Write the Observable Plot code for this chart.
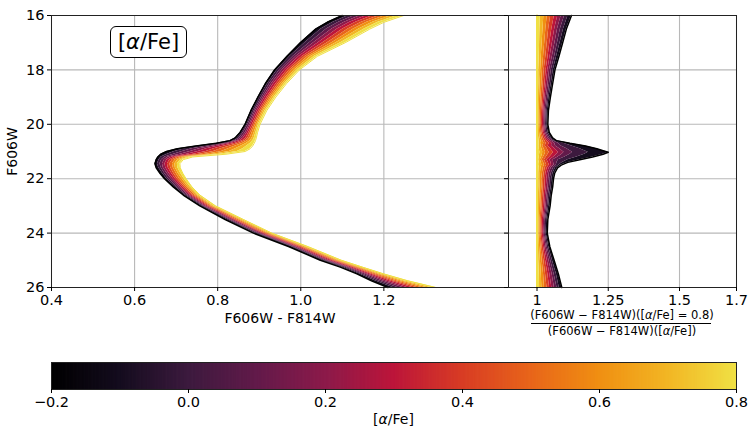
<!DOCTYPE html>
<html><head><meta charset="utf-8">
<script src="https://cdn.jsdelivr.net/npm/d3@7"></script>
<script src="https://cdn.jsdelivr.net/npm/@observablehq/plot@0.6"></script>
<style>
body{margin:0;background:#fff;}
#wrap{position:relative;width:748px;height:432px;font-family:"DejaVu Sans",sans-serif;color:#000;overflow:hidden;background:#fff;}
#wrap svg{position:absolute;}
.lbl{position:absolute;white-space:nowrap;line-height:1;}
</style></head><body><div id="wrap"></div>
<script>
// ---- data ----
const alphas = [-0.2,-0.1,0.0,0.1,0.2,0.3,0.4,0.5,0.6,0.7,0.8];
// F606W magnitudes at which the colours are read (left panel)
const mags = [16,16.25,16.5,17,17.5,18,18.5,19,19.5,20,20.3,20.5,20.6,20.7,20.8,20.9,21,21.1,21.2,21.3,21.45,21.6,21.8,22,22.3,22.6,23,23.5,24,24.5,25,25.25,25.5,25.75,26];
// F606W - F814W colour of each [alpha/Fe] isochrone
const colour_m02 = [1.100,1.064,1.036,0.999,0.967,0.937,0.915,0.897,0.880,0.866,0.854,0.842,0.830,0.797,0.748,0.703,0.677,0.663,0.656,0.652,0.649,0.652,0.661,0.672,0.693,0.717,0.757,0.818,0.886,0.972,1.047,1.095,1.135,1.170,1.210];
const colour_m01 = [1.115,1.078,1.049,1.010,0.974,0.943,0.920,0.901,0.884,0.870,0.858,0.847,0.836,0.806,0.762,0.721,0.696,0.679,0.664,0.659,0.655,0.658,0.667,0.677,0.698,0.721,0.761,0.822,0.890,0.977,1.052,1.100,1.142,1.179,1.222];
const colour_p00 = [1.130,1.091,1.062,1.021,0.982,0.949,0.925,0.906,0.888,0.873,0.862,0.852,0.842,0.815,0.775,0.738,0.715,0.694,0.673,0.665,0.661,0.664,0.672,0.682,0.702,0.725,0.765,0.827,0.895,0.981,1.057,1.106,1.148,1.187,1.233];
const colour_p01 = [1.144,1.105,1.075,1.031,0.989,0.955,0.930,0.910,0.891,0.877,0.867,0.857,0.848,0.824,0.789,0.756,0.734,0.710,0.681,0.672,0.667,0.669,0.678,0.688,0.707,0.729,0.768,0.831,0.899,0.986,1.062,1.111,1.155,1.196,1.245];
const colour_p02 = [1.159,1.118,1.088,1.042,0.996,0.961,0.935,0.914,0.895,0.880,0.871,0.862,0.854,0.833,0.802,0.773,0.753,0.726,0.690,0.678,0.673,0.675,0.683,0.693,0.711,0.733,0.772,0.836,0.904,0.990,1.067,1.116,1.161,1.205,1.256];
const colour_p03 = [1.174,1.132,1.101,1.053,1.004,0.967,0.941,0.919,0.899,0.884,0.875,0.868,0.861,0.843,0.816,0.791,0.772,0.742,0.698,0.685,0.679,0.681,0.689,0.698,0.716,0.737,0.776,0.840,0.908,0.995,1.073,1.122,1.168,1.214,1.268];
const colour_p04 = [1.189,1.146,1.114,1.064,1.011,0.973,0.946,0.923,0.903,0.888,0.879,0.873,0.867,0.852,0.830,0.808,0.790,0.757,0.706,0.691,0.685,0.687,0.694,0.703,0.720,0.741,0.780,0.844,0.912,1.000,1.078,1.127,1.174,1.222,1.279];
const colour_p05 = [1.204,1.159,1.127,1.075,1.018,0.979,0.951,0.927,0.907,0.891,0.883,0.878,0.873,0.861,0.843,0.826,0.809,0.773,0.715,0.698,0.691,0.693,0.700,0.708,0.725,0.745,0.784,0.849,0.917,1.004,1.083,1.132,1.181,1.231,1.291];
const colour_p06 = [1.218,1.173,1.140,1.085,1.025,0.985,0.956,0.931,0.910,0.895,0.888,0.883,0.879,0.870,0.857,0.843,0.828,0.789,0.723,0.704,0.697,0.698,0.705,0.714,0.729,0.749,0.787,0.853,0.921,1.009,1.088,1.137,1.187,1.240,1.302];
const colour_p07 = [1.233,1.186,1.153,1.096,1.033,0.991,0.961,0.936,0.914,0.898,0.892,0.888,0.885,0.879,0.870,0.861,0.847,0.804,0.732,0.711,0.703,0.704,0.711,0.719,0.734,0.753,0.791,0.858,0.926,1.013,1.093,1.143,1.194,1.248,1.314];
const colour_p08 = [1.248,1.200,1.166,1.107,1.040,0.997,0.966,0.940,0.918,0.902,0.896,0.893,0.891,0.888,0.884,0.878,0.866,0.820,0.740,0.717,0.709,0.710,0.716,0.724,0.738,0.757,0.795,0.862,0.930,1.018,1.098,1.148,1.200,1.257,1.325];

// magnitudes at which the colour ratios are read (right panel)
const ratioMags = [16,16.5,17,17.5,18,18.5,19,19.5,20,20.3,20.5,20.6,20.7,20.8,20.9,20.97,21.03,21.1,21.2,21.3,21.4,21.5,21.6,21.8,22.0,22.3,22.6,23.0,23.5,24.0,24.5,25.0,25.5,26.0];
const ratio_m02 = [1.121,1.103,1.090,1.077,1.063,1.055,1.047,1.040,1.038,1.043,1.055,1.068,1.115,1.170,1.210,1.232,1.250,1.232,1.195,1.150,1.108,1.085,1.072,1.062,1.058,1.055,1.050,1.046,1.038,1.036,1.045,1.060,1.075,1.087];
const ratio_m01 = [1.109,1.093,1.081,1.069,1.057,1.050,1.042,1.036,1.034,1.039,1.050,1.061,1.094,1.122,1.151,1.167,1.180,1.167,1.140,1.108,1.089,1.077,1.065,1.056,1.052,1.050,1.045,1.041,1.034,1.032,1.041,1.054,1.068,1.078];
const ratio_p00 = [1.097,1.082,1.072,1.062,1.050,1.044,1.038,1.032,1.030,1.034,1.044,1.054,1.075,1.085,1.105,1.116,1.125,1.116,1.098,1.075,1.070,1.068,1.058,1.050,1.046,1.044,1.040,1.037,1.030,1.029,1.036,1.048,1.060,1.070];
const ratio_p01 = [1.085,1.072,1.063,1.054,1.044,1.039,1.033,1.028,1.027,1.030,1.039,1.048,1.062,1.065,1.080,1.088,1.095,1.088,1.074,1.057,1.058,1.060,1.050,1.043,1.041,1.039,1.035,1.032,1.027,1.025,1.032,1.042,1.053,1.061];
const ratio_p02 = [1.073,1.062,1.054,1.046,1.038,1.033,1.028,1.024,1.023,1.026,1.033,1.041,1.052,1.051,1.063,1.070,1.075,1.070,1.059,1.045,1.049,1.051,1.043,1.037,1.035,1.033,1.030,1.028,1.023,1.022,1.027,1.036,1.045,1.052];
const ratio_p03 = [1.061,1.052,1.045,1.039,1.032,1.028,1.024,1.020,1.019,1.022,1.028,1.034,1.043,1.039,1.048,1.053,1.058,1.053,1.045,1.035,1.040,1.043,1.036,1.031,1.029,1.028,1.025,1.023,1.019,1.018,1.023,1.030,1.038,1.044];
const ratio_p04 = [1.048,1.041,1.036,1.031,1.025,1.022,1.019,1.016,1.015,1.017,1.022,1.027,1.032,1.029,1.036,1.039,1.043,1.039,1.033,1.026,1.030,1.034,1.029,1.025,1.023,1.022,1.020,1.018,1.015,1.014,1.018,1.024,1.030,1.035];
const ratio_p05 = [1.036,1.031,1.027,1.023,1.019,1.017,1.014,1.012,1.011,1.013,1.017,1.020,1.024,1.020,1.025,1.028,1.030,1.028,1.023,1.018,1.023,1.026,1.022,1.019,1.017,1.017,1.015,1.014,1.011,1.011,1.014,1.018,1.023,1.026];
const ratio_p06 = [1.024,1.021,1.018,1.015,1.013,1.011,1.009,1.008,1.008,1.009,1.011,1.014,1.016,1.014,1.017,1.019,1.020,1.019,1.016,1.012,1.015,1.017,1.014,1.012,1.012,1.011,1.010,1.009,1.008,1.007,1.009,1.012,1.015,1.017];
const ratio_p07 = [1.012,1.010,1.009,1.008,1.006,1.006,1.005,1.004,1.004,1.004,1.006,1.007,1.008,1.007,1.008,1.009,1.010,1.009,1.008,1.006,1.008,1.009,1.007,1.006,1.006,1.006,1.005,1.005,1.004,1.004,1.005,1.006,1.008,1.009];
const ratio_p08 = [1,1,1,1,1,1,1,1,1,1,1,1,1,1,1,1,1,1,1,1,1,1,1,1,1,1,1,1,1,1,1,1,1,1];

// ticks
const xTicksLeft = [0.4,0.6,0.8,1.0,1.2];
const xTicksRight = [1,1.25,1.5,1.7];
const yTicks = [16,18,20,22,24,26];
const cbarTicks = [-0.2,0.0,0.2,0.4,0.6,0.8];

// colour map stops (style), matched to the reference colour bar
const cmapStops = ["#000000","#140c1e","#3c1a3e","#621a4a","#8c1a4a","#bc153a","#d83c24","#e8651a","#f08f12","#f2b624","#f0e044"];

// ---- build tables ----
const colourSeries = [colour_m02,colour_m01,colour_p00,colour_p01,colour_p02,colour_p03,colour_p04,colour_p05,colour_p06,colour_p07,colour_p08];
const ratioSeries = [ratio_m02,ratio_m01,ratio_p00,ratio_p01,ratio_p02,ratio_p03,ratio_p04,ratio_p05,ratio_p06,ratio_p07,ratio_p08];
function bands(ys, series){
  const rows=[];
  for(let k=0;k<series.length-1;k++) for(let i=0;i<ys.length;i++)
    rows.push({m:ys[i], lo:series[k][i], hi:series[k+1][i], a:alphas[k+1], band:k});
  return rows;
}
function edge(ys, s, a){ return ys.map((m,i)=>({m, c:s[i], a})); }

const colorScale = {type:"linear", domain:alphas, range:cmapStops, interpolate:"rgb"};
const gridStyle = {stroke:"#b8b8b8", strokeOpacity:1, strokeWidth:1.1};
const baseStyle = {background:"transparent", fontFamily:"DejaVu Sans", fontSize:"14.5px", color:"#000"};
const wrap = document.getElementById("wrap");

function place(svg, left, top){ svg.style.left=left+"px"; svg.style.top=top+"px"; wrap.appendChild(svg); }

// left panel
const left = Plot.plot({
  width:508, height:330, marginLeft:51, marginRight:0, marginTop:15, marginBottom:43,
  style:baseStyle,
  x:{domain:[0.4,1.5]},
  y:{domain:[16,26], reverse:true},
  color:colorScale,
  marks:[
    Plot.gridX(xTicksLeft, gridStyle),
    Plot.gridY(yTicks, gridStyle),
    Plot.areaX(bands(mags, colourSeries), {y:"m", x1:"lo", x2:"hi", fill:"a", z:"band"}),
    Plot.line(edge(mags, colour_m02, -0.2), {x:"c", y:"m", stroke:"a", strokeWidth:1.5}),
    Plot.line(edge(mags, colour_p08, 0.8), {x:"c", y:"m", stroke:"a", strokeWidth:1}),
    Plot.frame({stroke:"#222", strokeWidth:1}),
    Plot.axisX(xTicksLeft, {tickSize:4, tickPadding:3, tickFormat:d3.format(".1f"), label:null}),
    Plot.axisY(yTicks, {tickSize:4, tickPadding:3, tickFormat:d=>String(d), label:null}),
    Plot.text(["F606W - F814W"], {text:d=>d, frameAnchor:"bottom", lineAnchor:"middle", dy:31, fontSize:14}),
    Plot.text(["F606W"], {text:d=>d, frameAnchor:"left", textAnchor:"middle", lineAnchor:"middle", dx:-39, rotate:-90, fontSize:14})
  ]
});
place(left, 0, 0);

// right panel
const right = Plot.plot({
  width:250, height:330, marginLeft:10, marginRight:12, marginTop:15, marginBottom:43,
  style:baseStyle,
  x:{domain:[0.9,1.7]},
  y:{domain:[16,26], reverse:true},
  color:colorScale,
  marks:[
    Plot.gridX(xTicksRight, gridStyle),
    Plot.gridY(yTicks, gridStyle),
    Plot.areaX(bands(ratioMags, ratioSeries), {y:"m", x1:"lo", x2:"hi", fill:"a", z:"band"}),
    Plot.line(edge(ratioMags, ratio_m02, -0.2), {x:"c", y:"m", stroke:"a", strokeWidth:1.5}),
    Plot.line(edge(ratioMags, ratio_p08, 0.8), {x:"c", y:"m", stroke:"a", strokeWidth:2}),
    Plot.frame({stroke:"#222", strokeWidth:1}),
    Plot.axisX(xTicksRight, {tickSize:4, tickPadding:3, tickFormat:d=>String(d), label:null}),
    Plot.axisY(yTicks, {tickSize:4, tickPadding:3, tickFormat:()=>"", label:null})
  ]
});
place(right, 498, 0);

// colour bar
const cbStep = 0.002;
const cbVals = d3.range(0, 500).map(i => -0.2 + i*cbStep);
const cbar = Plot.plot({
  width:748, height:75, marginLeft:51, marginRight:12, marginTop:22, marginBottom:26,
  style:baseStyle,
  x:{domain:[-0.2,0.8]},
  color:colorScale,
  marks:[
    Plot.rect(cbVals, {x1:d=>d, x2:d=>d+cbStep*1.6, fill:d=>d+cbStep/2}),
    Plot.frame({stroke:"#222", strokeWidth:1}),
    Plot.axisX(cbarTicks, {tickSize:4, tickPadding:3, tickFormat:d3.format(".1f"), label:null})
  ]
});
place(cbar, 0, 340);

// text overlays
function addLabel(html, css){ const d=document.createElement("div"); d.className="lbl"; d.innerHTML=html; Object.assign(d.style, css); wrap.appendChild(d); return d; }
addLabel('[<i>α</i>/Fe]', {left:"110px", top:"26px", width:"75px", height:"30px", lineHeight:"30px", textAlign:"center", fontSize:"21px", border:"1px solid #000", borderRadius:"6px", background:"#fff"});
addLabel('[<i>α</i>/Fe]', {left:"51px", width:"685px", top:"412px", textAlign:"center", fontSize:"14px"});
addLabel('(F606W − F814W)([<i>α</i>/Fe] = 0.8)', {left:"522px", width:"200px", top:"310px", textAlign:"center", fontSize:"11.5px"});
addLabel('', {left:"531px", width:"180px", top:"323px", height:"0px", borderTop:"1.5px solid #000"});
addLabel('(F606W − F814W)([<i>α</i>/Fe])', {left:"522px", width:"200px", top:"326px", textAlign:"center", fontSize:"11.5px"});
</script></body></html>
